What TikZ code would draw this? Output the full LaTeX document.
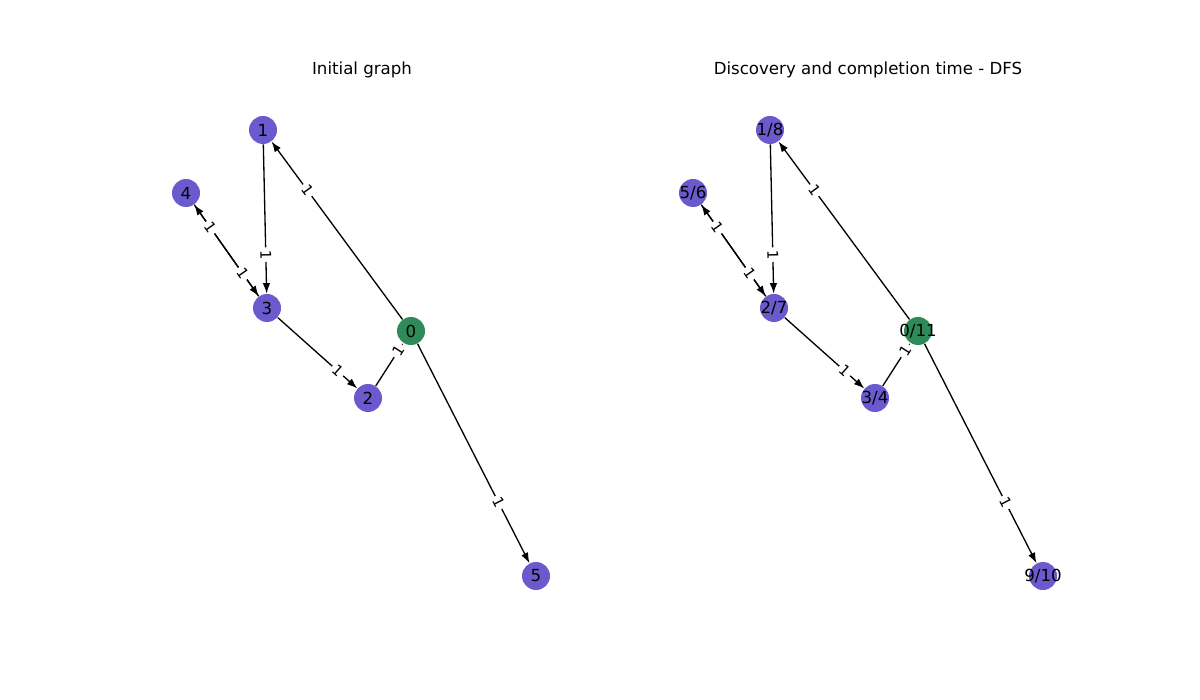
\documentclass[tikz,border=0pt]{standalone}
\usepackage{fontspec}
\setmainfont{DejaVu Sans}
\usepackage{xcolor}
\usetikzlibrary{arrows.meta}

\definecolor{slate}{HTML}{6A5ACD}
\definecolor{sea}{HTML}{2E8B57}
\newcommand{\vlab}[1]{\makebox[0pt]{#1}}

\begin{document}
\begin{tikzpicture}[
  x=0.2mm, y=-0.2mm,
  vert/.style={circle, fill=slate, minimum size=5.6mm, inner sep=0pt, font=\fontsize{9.45}{11}\selectfont},
  startvert/.style={vert, fill=sea},
  arrow/.style={-{Latex[length=2.1mm,width=1.5mm]}, line width=0.75pt},
  elabel/.style={fill=white, inner sep=1.4pt, sloped, pos=0.7, font=\fontsize{8.4}{9}\selectfont},
  title/.style={font=\fontsize{9.45}{11}\selectfont}
]
  \useasboundingbox (0,0) rectangle (1200,700);

  % Titles
  \node[title] (tleft) at (362,70) {Initial graph};
  \node[title] (tright) at (868,70) {Discovery and completion time - DFS};

  % Initial graph
  \node[startvert] (v0) at (411,331) {\vlab{0}};
  \node[vert] (v1) at (263,130) {\vlab{1}};
  \node[vert] (v2) at (368,398) {\vlab{2}};
  \node[vert] (v3) at (267,308) {\vlab{3}};
  \node[vert] (v4) at (186,193) {\vlab{4}};
  \node[vert] (v5) at (536,576) {\vlab{5}};

  % DFS times
  \node[startvert] (t0) at (918,331) {\vlab{0/11}};
  \node[vert] (t1) at (770,130) {\vlab{1/8}};
  \node[vert] (t2) at (875,398) {\vlab{3/4}};
  \node[vert] (t3) at (774,308) {\vlab{2/7}};
  \node[vert] (t4) at (693,193) {\vlab{5/6}};
  \node[vert] (t5) at (1043,576) {\vlab{9/10}};

  % Arrows
  \foreach \g in {v,t} {
    \foreach \a/\b in {0/1, 1/3, 3/4, 4/3, 3/2, 2/0, 0/5}
      \draw[arrow] (\g\a) -- (\g\b);
  }
  % Weights
  \foreach \g in {v,t} {
    \foreach \a/\b in {0/1, 1/3, 3/4, 4/3, 3/2, 2/0, 0/5}
      \path (\g\a.center) -- node[elabel] {1} (\g\b.center);
  }
\end{tikzpicture}
\end{document}
